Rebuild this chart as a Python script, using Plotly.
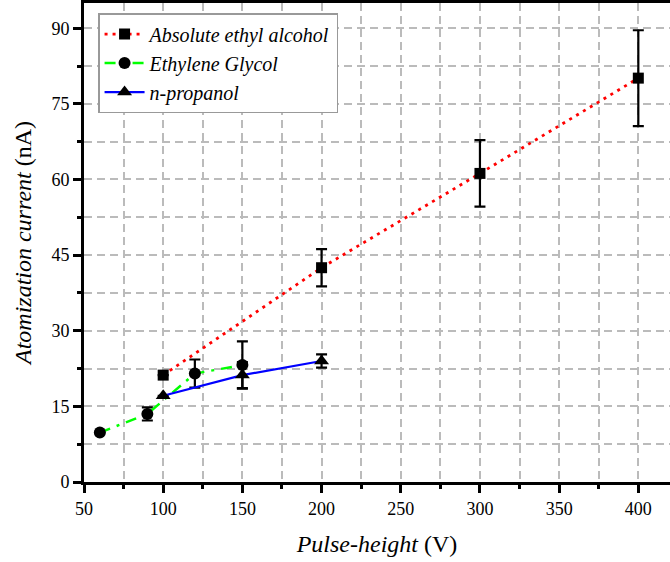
import plotly.graph_objects as go

# Data
eth_x = [100, 200, 300, 400]
eth_y = [21.2, 42.5, 61.2, 80.1]
eth_err = [0, 3.7, 6.6, 9.5]

gly_x = [60, 90, 120, 150]
gly_y = [9.8, 13.5, 21.5, 23.2]
gly_err = [0, 1.3, 2.8, 4.7]

pro_x = [100, 150, 200]
pro_y = [17.1, 21.2, 24.0]
pro_err = [0, 2.6, 1.3]

FONT = "Liberation Serif"

fig = go.Figure()

def err(arr):
    return dict(type="data", array=arr, visible=True, color="black",
                thickness=2.2, width=5.5)

fig.add_trace(go.Scatter(
    x=eth_x, y=eth_y, error_y=err(eth_err), mode="lines+markers",
    name="<i>Absolute ethyl alcohol</i>",
    line=dict(color="#ff0000", width=2.8, dash="3px,5px"),
    marker=dict(symbol="square", size=11, color="black"),
))
fig.add_trace(go.Scatter(
    x=gly_x, y=gly_y, error_y=err(gly_err), mode="lines+markers",
    name="<i>Ethylene Glycol</i>",
    line=dict(color="#00ff00", width=2.5, dash="11px,7px,3px,7px"),
    marker=dict(symbol="circle", size=12, color="black"),
))
fig.add_trace(go.Scatter(
    x=pro_x, y=pro_y, error_y=err(pro_err), mode="lines+markers",
    name="<i>n-propanol</i>",
    line=dict(color="#0000ff", width=2.2),
    marker=dict(symbol="triangle-up", size=13, color="black"),
))

GD = "8px,5px"
grid = dict(showgrid=True, gridcolor="#bbbbbb", gridwidth=2, griddash=GD)

fig.update_xaxes(
    range=[50, 420], tickvals=[50, 100, 150, 200, 250, 300, 350, 400],
    ticks="outside", ticklen=8, tickwidth=2.5, tickcolor="black",
    minor=dict(dtick=25, tick0=50, ticks="outside", ticklen=4, tickwidth=2.5,
               tickcolor="black", showgrid=True, gridcolor="#bbbbbb",
               gridwidth=2, griddash=GD),
    showline=True, linecolor="black", linewidth=3, mirror=True,
    zeroline=False,
    tickfont=dict(family=FONT, size=18, color="black"),
    title=dict(text="<i>Pulse-height</i> (V)", font=dict(family=FONT, size=24, color="black"),
               standoff=18),
    **grid,
)
fig.update_yaxes(
    range=[0, 95], tickvals=[0, 15, 30, 45, 60, 75, 90],
    ticks="outside", ticklen=8, tickwidth=2.5, tickcolor="black",
    minor=dict(dtick=7.5, tick0=0, ticks="outside", ticklen=4, tickwidth=2.5,
               tickcolor="black", showgrid=True, gridcolor="#bbbbbb",
               gridwidth=2, griddash=GD),
    showline=True, linecolor="black", linewidth=3, mirror=False,
    zeroline=False,
    tickfont=dict(family=FONT, size=18, color="black"),
    title=dict(text="<i>Atomization current</i> (nA)", font=dict(family=FONT, size=24, color="black"),
               standoff=14),
    **grid,
)

fig.update_layout(
    width=670, height=562,
    margin=dict(l=84, r=0, t=3, b=80),
    font=dict(family=FONT, color="black"),
    plot_bgcolor="white", paper_bgcolor="white",
    showlegend=True,
    legend=dict(x=0.024, y=0.979, xanchor="left", yanchor="top",
                bgcolor="white", bordercolor="#999999", borderwidth=1.5,
                font=dict(family=FONT, size=20, color="black"),
                itemwidth=40, tracegroupgap=0),
)

fig.write_html("out.html")
